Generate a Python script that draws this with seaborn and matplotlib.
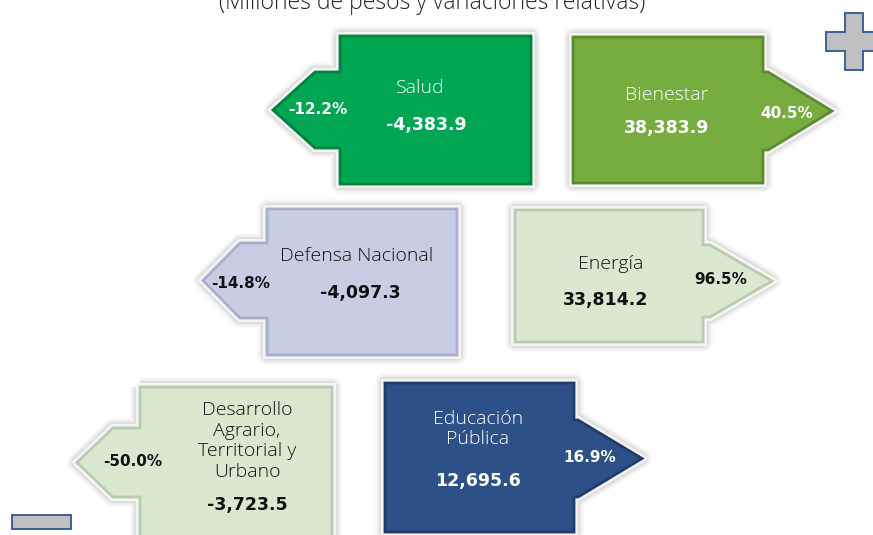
import matplotlib
matplotlib.use("Agg")
import matplotlib.pyplot as plt
import seaborn as sns

# datos (millones de pesos y variaciones relativas)
sectores = ['Salud', 'Bienestar', 'Defensa Nacional', 'Energía',
            'Desarrollo\nAgrario,\nTerritorial y\nUrbano', 'Educación\nPública']
valores = [-4383.9, 38383.9, -4097.3, 33814.2, -3723.5, 12695.6]
variaciones = [-12.2, 40.5, -14.8, 96.5, -50.0, 16.9]

colores = ['#00a651', '#77ac41', '#c9cde3', '#d9e8cf', '#d9e8cf', '#2d5089']
bordes = ['#00843f', '#5e8b32', '#a9aecb', '#b9cbb0', '#b9cbb0', '#203c6a']
texto = ['white', 'white', '#111111', '#111111', '#111111', 'white']

# layout en pixeles: cuerpo (izq, arriba, der, abajo), hombros (y1, y2), cuello, punta
cuerpos = [(340, 36, 531, 184), (573, 37, 763, 183), (267, 209, 457, 355),
           (515, 210, 703, 342), (140, 387, 332, 548), (385, 383, 574, 532)]
hombros = [(72, 148), (72, 150), (243, 318), (245, 317), (428, 497), (420, 497)]
cuellos = [315, 768, 240, 710, 113, 578]
puntas = [273, 832, 203, 772, 77, 642]
pos_nombre = [(420, 88), (667, 95), (357, 256), (611, 264), (247, 441), (478, 429)]
pos_valor = [(426, 125), (667, 128), (360, 293), (606, 300), (247, 505), (478, 481)]
pos_var = [(318, 110), (787, 113), (241, 283), (721, 280), (133, 462), (590, 458)]


def flecha(l, t, r, b, s1, s2, neck, tip, sentido):
    mid = (s1 + s2) / 2
    if sentido < 0:
        return [(l, t), (r, t), (r, b), (l, b), (l, s2), (neck, s2),
                (tip, mid), (neck, s1), (l, s1)]
    return [(l, t), (r, t), (r, s1), (neck, s1), (tip, mid),
            (neck, s2), (r, s2), (r, b), (l, b)]


sns.set_style("white")
plt.rcParams['font.family'] = ['DejaVu Sans']

fig = plt.figure(figsize=(8.73, 5.35), dpi=100)
ax = fig.add_axes([0, 0, 1, 1])
ax.set_xlim(0, 873)
ax.set_ylim(535, 0)
ax.axis('off')

ax.text(432, 9, '(Millones de pesos y variaciones relativas)', ha='center',
        va='baseline', fontsize=16.5, color='#222222', family='Open Sans',
        fontweight='light')

for i in range(len(sectores)):
    l, t, r, b = cuerpos[i]
    s1, s2 = hombros[i]
    pts = flecha(l, t, r, b, s1, s2, cuellos[i], puntas[i], variaciones[i])
    xs = [p[0] for p in pts]
    ys = [p[1] for p in pts]
    # sombra suave + borde blanco
    for lw, a in [(14, 0.10), (11, 0.18), (8, 0.35)]:
        ax.fill(xs, ys, facecolor='none', edgecolor='#b8b8b8', linewidth=lw,
                alpha=a, joinstyle='round', zorder=1)
    ax.fill(xs, ys, facecolor='white', edgecolor='#f4f4f4', linewidth=6,
            joinstyle='miter', zorder=2)
    ax.fill(xs, ys, facecolor=colores[i], edgecolor=bordes[i], linewidth=2,
            joinstyle='miter', zorder=3)

    ax.text(*pos_nombre[i], sectores[i], ha='center', va='center', fontsize=14,
            color=texto[i], family='Open Sans', fontweight='light',
            linespacing=1.17, zorder=4)
    ax.text(*pos_valor[i], f'{valores[i]:,.1f}', ha='center', va='center',
            fontsize=12.5, fontweight='bold', color=texto[i],
            family='DejaVu Sans', zorder=4)
    ax.text(*pos_var[i], f'{variaciones[i]:.1f}%', ha='center', va='center',
            fontsize=11, fontweight='bold', color=texto[i],
            family='DejaVu Sans', zorder=4)

# iconos de mas y menos
mas_x = [845, 863, 863, 882, 882, 863, 863, 845, 845, 826, 826, 845]
mas_y = [13, 13, 32, 32, 51, 51, 70, 70, 51, 51, 32, 32]
ax.fill(mas_x, mas_y, facecolor='#c0c0c0', edgecolor='#2f5597', linewidth=1.3,
        zorder=5)
ax.fill([12, 71, 71, 12], [515, 515, 529, 529], facecolor='#c0c0c0',
        edgecolor='#2f5597', linewidth=1.3, zorder=5)

plt.savefig('out.png', dpi=100)
